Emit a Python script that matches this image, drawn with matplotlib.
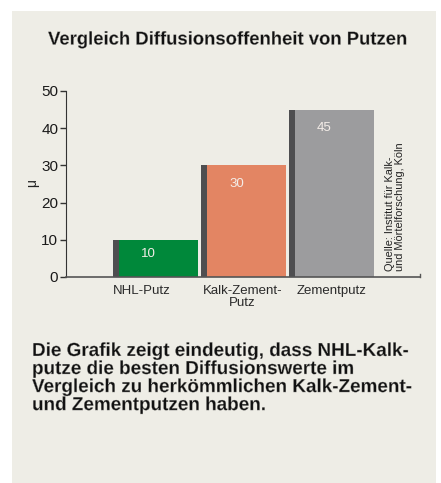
import matplotlib
matplotlib.use("Agg")
import matplotlib.pyplot as plt
import matplotlib.patheffects as pe
import numpy as np
from matplotlib.patches import Rectangle

# data
categories = ["NHL-Putz", "Kalk-Zement-\nPutz", "Zementputz"]
values = [10, 30, 45]
value_labels = ["10", "30", "45"]
bar_colors = ["#00883A", "#E38563", "#9C9C9E"]
yticks = [0, 10, 20, 30, 40, 50]

title = "Vergleich Diffusionsoffenheit von Putzen"
source = "Quelle: Institut für Kalk-\nund Mörtelforschung, Köln"
caption = ("Die Grafik zeigt eindeutig, dass NHL-Kalk-\n"
           "putze die besten Diffusionswerte im\n"
           "Vergleich zu herkömmlichen Kalk-Zement-\n"
           "und Zementputzen haben.")

plt.rcParams['font.family'] = ['Liberation Sans', 'DejaVu Sans']
BG = "#EEEDE6"

W, H = 441, 483
fig = plt.figure(figsize=(W / 100, H / 100), dpi=100)
fig.patch.set_facecolor("white")
fig.patches.append(Rectangle((12 / W, 0), (436 - 12) / W, 1 - 11 / H,
                             transform=fig.transFigure, facecolor=BG,
                             edgecolor="none", zorder=-5))

ax = fig.add_axes([66 / W, 1 - 277 / H, (420 - 66) / W, (277 - 91) / H])
ax.set_facecolor("none")
ax.set_zorder(2)

x = np.arange(len(values))
# dark side strip + main body
ax.bar(x - 0.449, values, width=0.068, color="#4E4E50", linewidth=0, zorder=2)
ax.bar(x + 0.034, values, width=0.898, color=bar_colors, linewidth=0, zorder=2)

for xi, v, lab in zip(x, values, value_labels):
    ypos = 6.2 if v < 20 else v - 5.0
    ax.text(xi - 0.08, ypos, lab, ha="center", va="center", color="#F4EDE8",
            fontsize=9.5, zorder=3)

ax.set_xlim(-1.017, 3.006)
ax.set_ylim(0, 50)
ax.set_yticks(yticks)
ax.set_yticklabels([str(t) for t in yticks], fontsize=11, color="#1a1a1a")
ax.set_xticks(x + np.array([-0.16, -0.01, 0.0]))
ax.set_xticklabels(categories, fontsize=9.5, color="#2a2a2a", linespacing=1.0)
ax.tick_params(axis="x", length=0, pad=6)
ax.tick_params(axis="y", length=4, width=1, color="#333333", pad=1.5)
for s in ["top", "right"]:
    ax.spines[s].set_visible(False)
ax.spines["left"].set_color("#333333")
ax.spines["bottom"].set_color("#555555")
ax.spines["bottom"].set_linewidth(1.2)
ax.plot([3.006, 3.006], [0, 0.9], color="#555555", lw=1, clip_on=False)

thin = [pe.Normal(), pe.Stroke(linewidth=0.25, foreground=BG)]
fig.text(227.5 / W, 1 - 40 / H, title, ha="center", va="center",
         fontsize=13.3, fontweight="bold", color="#111111", path_effects=thin)
fig.text(32 / W, 1 - 183 / H, "μ", ha="center", va="center", rotation=90,
         fontsize=10, color="#222222")
fig.text(395 / W, 1 - 271 / H, source, ha="center", va="bottom", rotation=90,
         fontsize=7.9, color="#222222", multialignment="left", linespacing=1.05)
fig.text(32 / W, 1 - 343 / H, caption, ha="left", va="top", fontsize=13.6,
         fontweight="bold", color="#111111", linespacing=1.08, path_effects=thin)

fig.savefig("out.png", dpi=100)
